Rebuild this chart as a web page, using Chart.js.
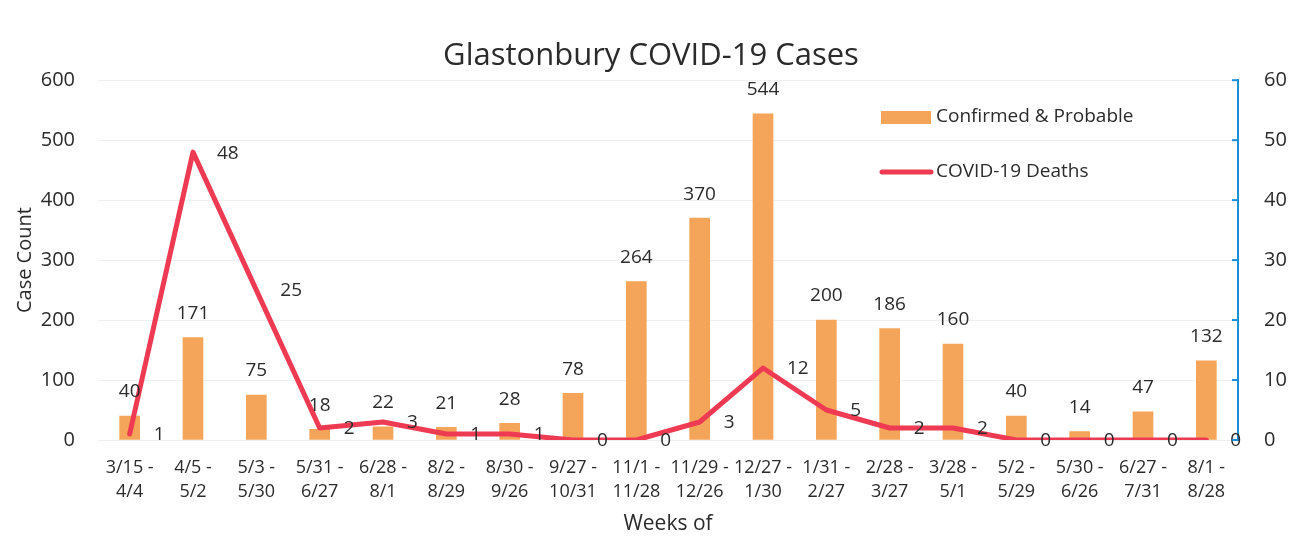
<!DOCTYPE html>
<html lang="en">
<head>
<meta charset="UTF-8">
<title>Glastonbury COVID-19 Cases</title>
<script src="https://cdn.jsdelivr.net/npm/chart.js"></script>
<style>
  html, body { margin: 0; padding: 0; background: #fff; }
  #wrap { width: 1294px; height: 550px; }
</style>
</head>
<body>
<div id="wrap"><canvas id="chart"></canvas></div>
<script>
const weeks = [
  ['3/15 -', '4/4'], ['4/5 -', '5/2'], ['5/3 -', '5/30'], ['5/31 -', '6/27'],
  ['6/28 -', '8/1'], ['8/2 -', '8/29'], ['8/30 -', '9/26'], ['9/27 -', '10/31'],
  ['11/1 -', '11/28'], ['11/29 -', '12/26'], ['12/27 -', '1/30'], ['1/31 -', '2/27'],
  ['2/28 -', '3/27'], ['3/28 -', '5/1'], ['5/2 -', '5/29'], ['5/30 -', '6/26'],
  ['6/27 -', '7/31'], ['8/1 -', '8/28']
];
const cases = [40, 171, 75, 18, 22, 21, 28, 78, 264, 370, 544, 200, 186, 160, 40, 14, 47, 132];
const deaths = [1, 48, 25, 2, 3, 1, 1, 0, 0, 3, 12, 5, 2, 2, 0, 0, 0, 0];

const FONT = "'Open Sans', 'Noto Sans', sans-serif";
const TXT = '#2b2b2b';
const ORANGE = '#F5A55A';
const RED = '#EE3A52';
const BLUE = '#1C8FDB';

// value labels, right axis inner ticks and the legend box
const extras = {
  id: 'extras',
  afterDatasetsDraw(chart) {
    const ctx = chart.ctx;
    ctx.save();
    ctx.font = '19px ' + FONT;
    ctx.fillStyle = TXT;
    ctx.textBaseline = 'middle';

    chart.getDatasetMeta(0).data.forEach((bar, i) => {
      ctx.textAlign = 'center';
      ctx.fillText(String(cases[i]), bar.x, bar.y - 24);
    });
    chart.getDatasetMeta(1).data.forEach((pt, i) => {
      ctx.textAlign = 'left';
      ctx.fillText(String(deaths[i]), pt.x + 24, pt.y + 1);
    });

    // short ticks on the inside of the blue axis
    const y2 = chart.scales.y2;
    ctx.strokeStyle = BLUE;
    ctx.lineWidth = 2;
    y2.ticks.forEach(t => {
      const yy = y2.getPixelForValue(t.value);
      ctx.beginPath();
      ctx.moveTo(y2.left - 6, yy);
      ctx.lineTo(y2.left, yy);
      ctx.stroke();
    });

    // legend
    ctx.fillStyle = ORANGE;
    ctx.fillRect(881, 111, 50, 13);
    ctx.strokeStyle = RED;
    ctx.lineWidth = 5;
    ctx.lineCap = 'round';
    ctx.beginPath();
    ctx.moveTo(882, 172);
    ctx.lineTo(931, 172);
    ctx.stroke();
    ctx.fillStyle = TXT;
    ctx.textAlign = 'left';
    ctx.fillText('Confirmed & Probable', 936, 117);
    ctx.fillText('COVID-19 Deaths', 936, 172);
    ctx.restore();
  }
};

new Chart(document.getElementById('chart'), {
  data: {
    labels: weeks,
    datasets: [{
      type: 'bar',
      label: 'Confirmed & Probable',
      data: cases,
      backgroundColor: ORANGE,
      barThickness: 20,
      yAxisID: 'y',
      order: 2
    }, {
      type: 'line',
      label: 'COVID-19 Deaths',
      data: deaths,
      borderColor: RED,
      borderWidth: 5,
      pointRadius: 0,
      tension: 0,
      borderJoinStyle: 'round',
      borderCapStyle: 'round',
      yAxisID: 'y2',
      order: 1
    }]
  },
  options: {
    responsive: true,
    maintainAspectRatio: false,
    animation: false,
    layout: { padding: { top: 0, bottom: 10, left: 8, right: 0 } },
    plugins: {
      legend: { display: false },
      tooltip: { enabled: false },
      title: {
        display: true,
        text: 'Glastonbury COVID-19 Cases',
        color: TXT,
        font: { family: FONT, size: 31, weight: 'normal' },
        padding: { top: 38, bottom: 5 }
      }
    },
    scales: {
      x: {
        offset: true,
        grid: { display: false, drawTicks: false },
        border: { display: false },
        ticks: {
          color: TXT,
          font: { family: FONT, size: 18, lineHeight: 1.33 },
          padding: 16,
          maxRotation: 0,
          autoSkip: false
        },
        title: {
          display: true,
          text: 'Weeks of',
          color: TXT,
          font: { family: FONT, size: 21 },
          padding: { top: 0, bottom: 3 }
        },
        afterFit(scale) { scale.height = 100; }
      },
      y: {
        position: 'left',
        min: 0,
        max: 600,
        ticks: {
          stepSize: 100,
          color: TXT,
          font: { family: FONT, size: 20 },
          padding: 23
        },
        grid: { color: 'rgba(0,0,0,0.06)', drawTicks: false },
        border: { display: false },
        title: {
          display: true,
          text: 'Case Count',
          color: TXT,
          font: { family: FONT, size: 20 },
          padding: { top: 5, bottom: 0 }
        },
        afterFit(scale) { scale.width = 90; }
      },
      y2: {
        position: 'right',
        min: 0,
        max: 60,
        ticks: {
          stepSize: 10,
          color: TXT,
          font: { family: FONT, size: 20 },
          padding: 26
        },
        grid: { drawOnChartArea: false, drawTicks: false },
        border: { display: true, color: BLUE, width: 2 },
        afterFit(scale) { scale.width = 56; }
      }
    }
  },
  plugins: [extras]
});
</script>
</body>
</html>
